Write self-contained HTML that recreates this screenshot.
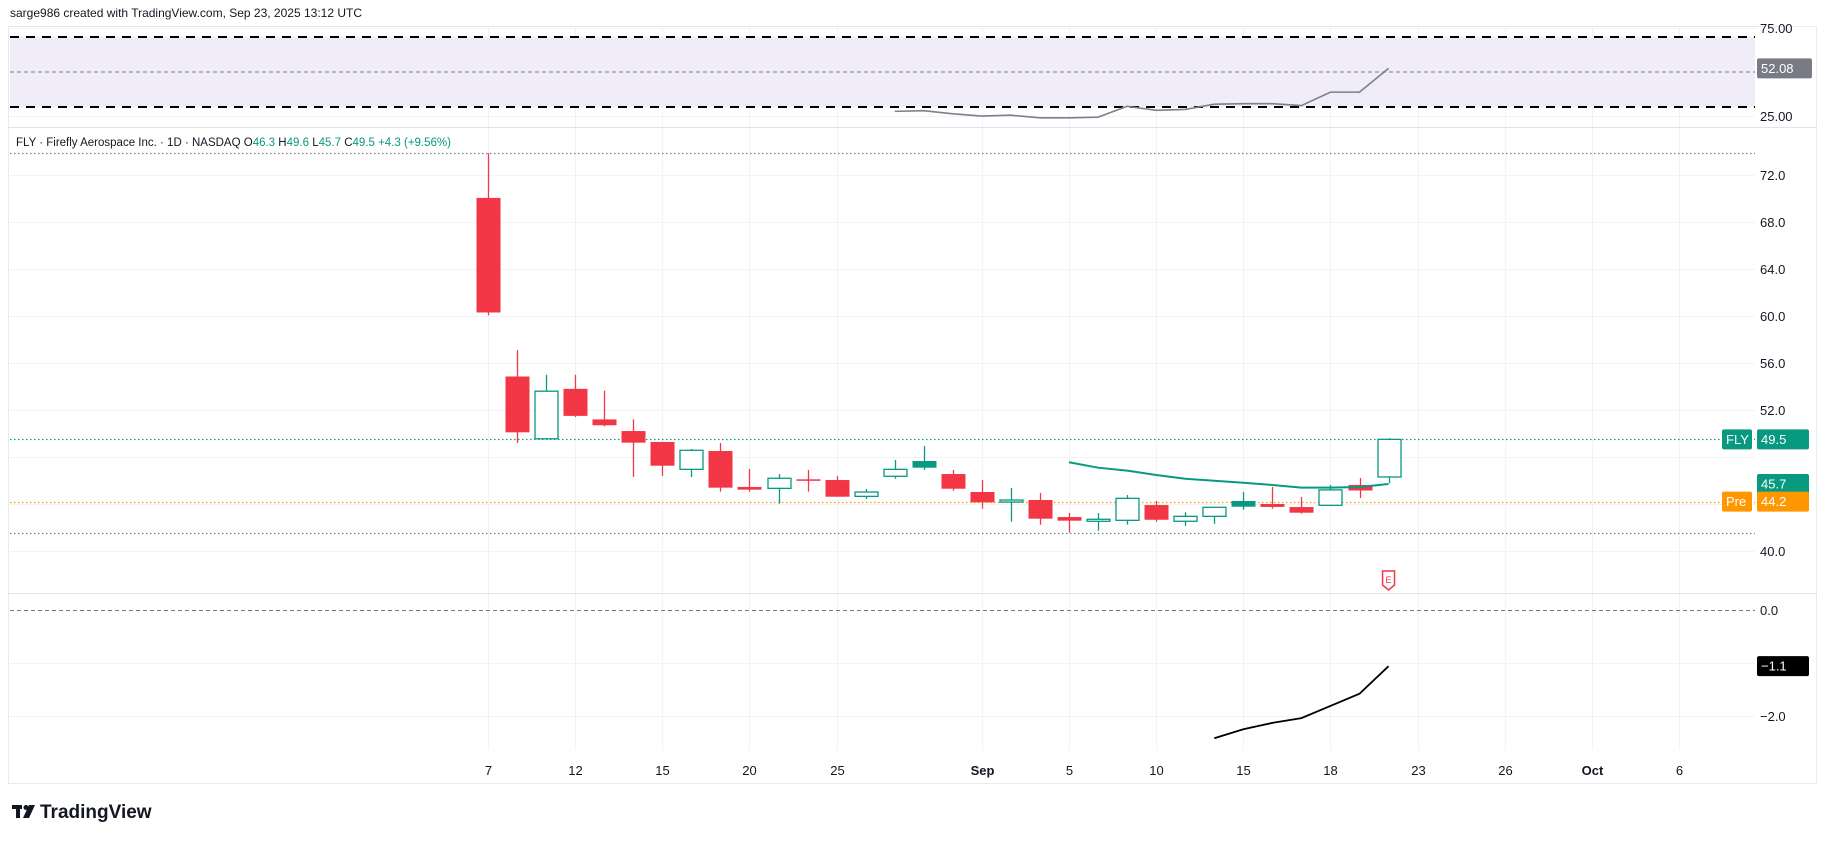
<!DOCTYPE html>
<html><head><meta charset="utf-8">
<style>
html,body{margin:0;padding:0;background:#fff;}
body{width:1827px;height:843px;overflow:hidden;font-family:"Liberation Sans",sans-serif;}
svg text{font-family:"Liberation Sans",sans-serif;}
</style></head>
<body>
<svg id="chart" width="1827" height="843" viewBox="0 0 1827 843" xmlns="http://www.w3.org/2000/svg">
<text x="10" y="17" font-size="12" fill="#131722">sarge986 created with TradingView.com, Sep 23, 2025 13:12 UTC</text>
<rect x="8.5" y="26.5" width="1808" height="757" fill="none" stroke="#e8eaf0"/>
<g id="grid"></g>
<rect x="10" y="37" width="1745" height="70" fill="#f0ecf8"/>
<line x1="10" y1="37" x2="1755" y2="37" stroke="#000" stroke-width="2" stroke-dasharray="9 7"/>
<line x1="10" y1="107" x2="1755" y2="107" stroke="#000" stroke-width="2" stroke-dasharray="9 7"/>
<line x1="10" y1="72" x2="1755" y2="72" stroke="#787b86" stroke-width="1" stroke-dasharray="4 3"/>
<line x1="8" y1="127.5" x2="1817" y2="127.5" stroke="#e0e3eb"/>
<line x1="8" y1="593.5" x2="1817" y2="593.5" stroke="#e0e3eb"/>
<g id="marks"></g>
<text x="16" y="146" font-size="11.5" fill="#131722">FLY · Firefly Aerospace Inc. · 1D · NASDAQ <tspan fill="#131722">O</tspan><tspan fill="#089981">46.3</tspan> <tspan>H</tspan><tspan fill="#089981">49.6</tspan> <tspan>L</tspan><tspan fill="#089981">45.7</tspan> <tspan>C</tspan><tspan fill="#089981">49.5</tspan> <tspan fill="#089981">+4.3 (+9.56%)</tspan></text>
<g>
<rect x="12" y="805" width="10" height="4" fill="#131722"/><rect x="16" y="805" width="4" height="13" fill="#131722"/>
<circle cx="26" cy="807.5" r="2.5" fill="#131722"/><polygon points="29,805 35,805 29,818 23,818" fill="#131722"/>
<text x="40" y="818" font-size="19" font-weight="bold" fill="#131722">TradingView</text>
</g>
</svg>
<script>
const dates = ["7","12","15","20","25","Sep","5","10","15","18","23","26","Oct","6"];
const dateIdx = [0,3,6,9,12,17,20,23,26,29,32,35,38,41];
const opens = [70.05,54.85,49.55,53.8,51.2,50.21,49.28,46.95,48.51,45.45,45.33,46.1,46.04,44.65,46.36,47.66,46.55,45.02,44.17,44.34,42.89,42.53,42.61,43.91,42.53,42.95,44.26,44.0,43.74,43.89,45.62,46.3];
const highs = [73.85,57.1,55.0,55.0,53.65,51.2,49.3,48.68,49.19,46.98,46.55,46.9,46.38,45.28,47.74,48.94,46.9,46.04,45.36,44.94,43.23,43.23,44.77,44.26,43.3,43.72,45.02,45.45,44.6,45.62,46.21,49.6];
const lows = [60.05,49.2,49.5,51.4,50.6,46.3,46.4,46.3,45.05,45.05,44.03,45.05,44.62,44.43,46.15,46.9,45.13,43.6,42.49,42.24,41.56,41.73,42.24,42.49,42.15,42.32,43.51,43.6,43.17,43.89,44.51,45.76];
const closes = [60.3,50.1,53.6,51.5,50.7,49.22,47.26,48.57,45.39,45.22,46.19,46.07,44.62,45.02,46.95,47.09,45.3,44.14,44.34,42.75,42.58,42.70,44.48,42.66,42.95,43.72,43.77,43.75,43.26,45.2,45.15,49.5];
const maStart = 20;
const maVals = [47.55,47.09,46.84,46.47,46.15,45.98,45.81,45.62,45.39,45.39,45.45,45.7];
const rsiStart = 14;
const rsiVals = [27.5,27.9,26.1,24.8,25.3,23.8,23.8,24.2,30.4,28.1,28.6,31.6,31.9,31.9,30.8,38.5,38.5,52.08];
const oscStart = 25;
const oscVals = [-2.42,-2.25,-2.13,-2.04,-1.81,-1.58,-1.06];
const priceTicks = [72,68,64,60,56,52,48,44,40];
const rsiTicks = [75,25];
const oscTicks = [0,-1,-2];
const preValue = 44.2;

const NS="http://www.w3.org/2000/svg";
const svg=document.getElementById('chart');
const marks=document.getElementById('marks');
const grid=document.getElementById('grid');
const X=i=>488+29.05*i;
const Y=p=>175+(72-p)*11.75;
const YR=v=>72-(v-50)*1.75;
const YO=v=>610-v*53;
function el(tag,attrs,parent){const e=document.createElementNS(NS,tag);for(const k in attrs)e.setAttribute(k,attrs[k]);(parent||marks).appendChild(e);return e;}
function txt(s,attrs,parent){const t=el('text',attrs,parent);t.textContent=s;return t;}

dates.forEach((d,k)=>{
  const x=Math.round(X(dateIdx[k]))+0.5;
  const g=el('line',{x1:x,y1:27,x2:x,y2:750,stroke:'#f0f3fa'},grid);
  
  
  const t=txt(d,{x:x,y:775,'font-size':13,'text-anchor':'middle',fill:'#131722','font-weight':(d==='Sep'||d==='Oct')?'bold':'normal'});
  
  
});
priceTicks.forEach(p=>{
  const y=Math.round(Y(p))+0.5;
  const g=el('line',{x1:10,y1:y,x2:1755,y2:y,stroke:'#f0f3fa'},grid);
  
  
  if(p!==48&&p!==44){
  const t=txt(p.toFixed(1),{x:1760,y:y+4.5,'font-size':13,fill:'#131722'});
  
  }
});
rsiTicks.forEach(v=>{
  const y=Math.round(YR(v))+0.5;
  const g=el('line',{x1:10,y1:y,x2:1755,y2:y,stroke:'#f0f3fa'},grid);
  
  
  const t=txt(v.toFixed(2),{x:1760,y:y+4.5,'font-size':13,fill:'#131722'});
  
  
});
oscTicks.forEach(v=>{
  const y=Math.round(YO(v))+0.5;
  const g=el('line',{x1:10,y1:y,x2:1755,y2:y,stroke:v===0?'#787b86':'#f0f3fa','stroke-dasharray':v===0?'4 3':'none'},grid);
  
  
  if(v!==-1){
  const t=txt(v===0?'0.0':'\u2212'+Math.abs(v).toFixed(1),{x:1760,y:y+4.5,'font-size':13,fill:'#131722'});
  
  }
});

const hi=Math.max(...highs), lo=Math.min(...lows), last=closes[closes.length-1];
[[hi,'#787b86','high-line'],[lo,'#787b86','low-line'],[last,'#089981','last-price-line'],[preValue,'#ff9800','premarket-line']].forEach(r=>{
  const y=Math.round(Y(r[0]))+0.5;
  const l=el('line',{x1:10,y1:y,x2:1755,y2:y,stroke:r[1],'stroke-dasharray':'1.5 2.5','stroke-width':1.3});
  
  
});

opens.forEach((o,i)=>{
  const c=closes[i];
  const up = i===0 ? false : c>closes[i-1];
  const col = up?'#089981':'#f23645';
  const x=Math.round(X(i));
  const g=el('g',{});
  
  
  const top=Y(Math.max(o,c)), bot=Y(Math.min(o,c));
  el('line',{x1:x+0.5,y1:Y(highs[i]),x2:x+0.5,y2:Y(lows[i]),stroke:col,'stroke-width':1.3},g);
  const h=Math.max(bot-top,1.5);
  if(c>=o){ el('rect',{x:x-11,y:top,width:23,height:h,fill:'#fff',stroke:col,'stroke-width':1.3},g); }
  else { el('rect',{x:x-11.5,y:top,width:24,height:h,fill:col},g); }
});

const ma=el('polyline',{points:maVals.map((v,k)=>X(maStart+k)+','+Y(v)).join(' '),fill:'none',stroke:'#089981','stroke-width':2});


const rsi=el('polyline',{points:rsiVals.map((v,k)=>X(rsiStart+k)+','+YR(v)).join(' '),fill:'none',stroke:'#7e7f8a','stroke-width':1.6});


const osc=el('polyline',{points:oscVals.map((v,k)=>X(oscStart+k)+','+YO(v)).join(' '),fill:'none',stroke:'#000','stroke-width':1.8});



const ex=X(closes.length-1);
const eg=el('g',{});


el('path',{d:`M${ex-6},571 h12 v14 l-6,5 l-6,-5 z`,fill:'#fff',stroke:'#f23645','stroke-width':1.5},eg);
txt('E',{x:ex,y:583,'font-size':9,'text-anchor':'middle',fill:'#f23645'},eg);

function badge(name,x,y,w,label,bg,fg){
  const g=el('g',{});
  
  
  el('rect',{x:x,y:y-10,width:w,height:20,rx:2,fill:bg},g);
  txt(label,{x:x+4,y:y+4.5,'font-size':13,fill:fg},g);
}
badge('rsi-value-badge',1757,YR(rsiVals[rsiVals.length-1]),55,rsiVals[rsiVals.length-1].toFixed(2),'#787b86','#fff');
badge('symbol-badge',1722,Y(last),30,'FLY','#089981','#fff');
badge('last-price-badge',1757,Y(last),52,last.toFixed(1),'#089981','#fff');
badge('ma-value-badge',1757,Y(maVals[maVals.length-1]),52,maVals[maVals.length-1].toFixed(1),'#089981','#fff');
badge('pre-label-badge',1722,Y(preValue),30,'Pre','#ff9800','#fff');
badge('pre-price-badge',1757,Y(preValue),52,preValue.toFixed(1),'#ff9800','#fff');
badge('osc-value-badge',1757,YO(oscVals[oscVals.length-1]),52,'\u2212'+Math.abs(oscVals[oscVals.length-1]).toFixed(1),'#000','#fff');
</script>
</body></html>
